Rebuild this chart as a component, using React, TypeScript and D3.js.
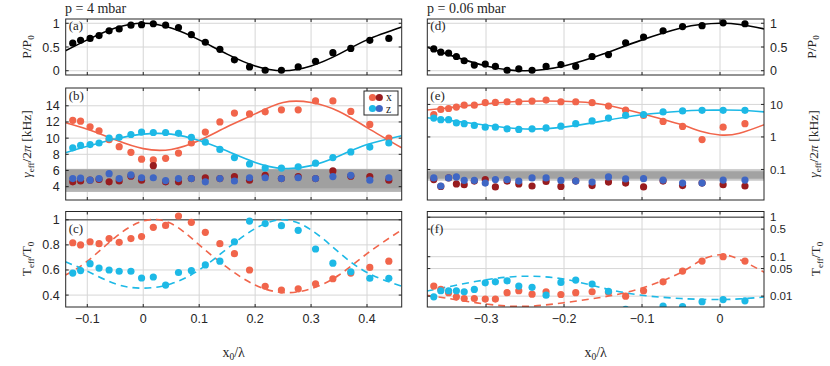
import React from 'react'
import * as d3 from 'd3'

// x positions of the measured points
const leftX = [-0.126, -0.112, -0.095, -0.079, -0.061, -0.043, -0.022, -0.003, 0.018, 0.040, 0.063, 0.086,
  0.111, 0.137, 0.163, 0.190, 0.218, 0.247, 0.277, 0.308, 0.339, 0.371, 0.405, 0.439]
const rightX = [-0.367, -0.358, -0.348, -0.338, -0.328, -0.315, -0.301, -0.288, -0.273, -0.258, -0.241, -0.223,
  -0.204, -0.185, -0.164, -0.143, -0.121, -0.098, -0.073, -0.048, -0.023, 0.004, 0.032]

// p = 4 mbar
const aPower = [0.58, 0.64, 0.68, 0.74, 0.84, 0.88, 0.96, 0.97, 0.99, 0.96, 0.91, 0.76, 0.60, 0.45, 0.23, 0.08,
  0.01, 0.01, 0.08, 0.20, 0.38, 0.47, 0.64, 0.68]
const bGammaX = [12.2, 12.1, 11.4, 10.9, 9.8, 8.95, 8.25, 7.4, 7.3, 7.5, 8.15, 9.4, 10.75, 12.0, 13.1, 13.0,
  13.25, 13.5, 13.5, 14.6, 14.6, 13.3, 11.7, 10.0]
const bGammaZ = [8.8, 9.1, 9.2, 9.4, 10.0, 10.1, 10.45, 10.75, 10.7, 10.7, 10.6, 10.1, 9.5, 8.6, 7.6, 6.8, 6.3,
  6.3, 6.45, 6.9, 7.6, 8.3, 8.9, 9.4]
const bGammaX0 = [4.6, 4.7, 4.8, 4.9, 4.6, 4.7, 5.3, 4.8, 6.6, 4.6, 4.6, 5.0, 5.1, 5.0, 5.25, 4.8, 5.4, 5.0,
  5.25, 5.0, 5.95, 5.3, 5.25, 4.8]
const bGammaZ0 = [5.0, 5.05, 4.8, 5.0, 5.6, 5.0, 5.45, 5.1, 5.1, 4.75, 5.0, 5.0, 4.6, 5.0, 4.7, 5.1, 5.1, 5.0,
  5.1, 5.0, 5.25, 5.4, 4.8, 5.1]
const cTempX = [0.817, 0.80, 0.825, 0.81, 0.85, 0.82, 0.85, 0.866, 0.94, 0.955, 1.03, 0.98, 0.90, 0.81, 0.73,
  0.60, 0.47, 0.44, 0.45, 0.49, 0.53, 0.575, 0.62, 0.67]
const cTempZ = [0.575, 0.595, 0.65, 0.615, 0.60, 0.59, 0.59, 0.536, 0.544, 0.48, 0.58, 0.595, 0.64, 0.67, 0.825,
  0.99, 0.97, 0.953, 0.916, 0.767, 0.654, 0.586, 0.534, 0.534]

// p = 0.06 mbar
const dPower = [0.46, 0.39, 0.37, 0.30, 0.21, 0.12, 0.14, 0.09, 0.01, 0.04, 0.01, 0.09, 0.13, 0.09, 0.30, 0.34,
  0.59, 0.71, 0.84, 0.93, 0.95, 1.01, 0.99]
const eGammaX = [4.9, 7.0, 7.5, 8.3, 9.5, 9.5, 11.3, 11.5, 12.1, 12.1, 12.7, 13.6, 12.1, 12.1, 11.3, 8.9, 6.65,
  4.6, 3.0, 2.1, 0.83, 2.0, 2.55]
const eGammaZ = [3.8, 3.4, 3.4, 2.7, 2.55, 2.26, 2.0, 2.0, 1.78, 1.7, 1.78, 1.9, 2.15, 2.55, 3.1, 3.8, 4.6, 4.9,
  5.9, 6.3, 6.6, 6.6, 6.6]
const eGammaX0 = [0.049, 0.030, 0.055, 0.036, 0.034, 0.044, 0.049, 0.029, 0.044, 0.036, 0.031, 0.043, 0.030,
  0.044, 0.032, 0.041, 0.038, 0.029, 0.044, 0.032, 0.038, 0.034, 0.031]
const eGammaZ0 = [0.055, 0.031, 0.055, 0.059, 0.046, 0.046, 0.038, 0.049, 0.049, 0.044, 0.055, 0.055, 0.046,
  0.044, 0.041, 0.059, 0.051, 0.052, 0.047, 0.038, 0.038, 0.047, 0.047]
const fTempX = [0.0180, 0.0148, 0.0122, 0.0096, 0.0087, 0.0087, 0.0084, 0.0084, 0.0122, 0.0137, 0.0112, 0.0129,
  0.011, 0.0122, 0.0129, 0.0125, 0.010, 0.0137, 0.0231, 0.0432, 0.0776, 0.1, 0.0776]
const fTempZ = [0.0096, 0.0137, 0.0137, 0.0137, 0.0129, 0.0148, 0.0218, 0.0231, 0.0245, 0.018, 0.0167, 0.0106,
  0.0222, 0.0255, 0.0202, 0.0133, 0.0046, 0.003, 0.0056, 0.0054, 0.0072, 0.0082, 0.0076]

const leftFitX = [-0.139, -0.1, -0.05, 0, 0.05, 0.1, 0.15, 0.2, 0.25, 0.3, 0.35, 0.4, 0.462]
const aFit = [0.42, 0.65, 0.9, 1.0, 0.9, 0.65, 0.35, 0.1, 0.0, 0.1, 0.35, 0.65, 0.92]
const bFitX = [11.9, 11.1, 9.8, 8.7, 8.6, 9.7, 11.4, 13.0, 14.4, 14.4, 13.3, 11.3, 8.8]
const bFitZ = [8.2, 9.0, 9.9, 10.5, 10.5, 9.7, 8.4, 7.0, 6.25, 6.6, 7.8, 9.2, 10.3]
const cFitX = [0.56, 0.67, 0.86, 0.99, 0.97, 0.80, 0.62, 0.48, 0.42, 0.45, 0.56, 0.73, 0.92]
const cFitZ = [0.665, 0.59, 0.49, 0.455, 0.49, 0.6, 0.77, 0.93, 1.0, 0.92, 0.74, 0.58, 0.47]

const rightFitX = [-0.376, -0.35, -0.3, -0.25, -0.2, -0.15, -0.1, -0.05, -0.025, 0, 0.025, 0.057]
const dFit = [0.5, 0.35, 0.1, 0.0, 0.1, 0.35, 0.65, 0.9, 0.975, 1.0, 0.975, 0.88]
const eFitX = [6.7, 7.8, 10.5, 12.5, 12.5, 10.0, 5.2, 2.4, 1.5, 1.15, 1.3, 2.4]
const eFitZ = [3.9, 3.3, 2.3, 1.75, 2.0, 3.1, 4.8, 6.2, 6.6, 6.7, 6.6, 5.9]
const fFitX = [0.0105, 0.0088, 0.0063, 0.0055, 0.0068, 0.0095, 0.016, 0.040, 0.08, 0.112, 0.085, 0.04]
const fFitZ = [0.0135, 0.017, 0.026, 0.032, 0.027, 0.016, 0.0105, 0.0087, 0.0083, 0.0082, 0.0085, 0.0095]

// ticks
const leftXTicks = [-0.1, 0, 0.1, 0.2, 0.3, 0.4]
const rightXTicks = [-0.3, -0.2, -0.1, 0]
const powerTicks = [0, 0.5, 1]
const gammaTicks = [4, 6, 8, 10, 12, 14]
const tempTicks = [0.4, 0.6, 0.8, 1]
const gammaLogTicks = [0.1, 1, 10]
const tempLogTicks = [0.01, 0.05, 0.1, 0.5, 1]

const RED = '#f1654b'
const CYAN = '#1db9e6'
const DARKRED = '#981c1f'
const BLUE = '#3f66c4'

const SANS = 'Liberation Sans, Arial, sans-serif'
const SERIF = 'Liberation Serif, Times New Roman, serif'

const colL = { l: 65.7, r: 401.7 }
const colR = { l: 427.3, r: 764 }
const rowA = { t: 19, b: 75 }
const rowB = { t: 88, b: 200 }
const rowC = { t: 211.5, b: 307 }

const fmt = (v: number) => (v < 0 ? '\u2212' + String(-v) : String(v))

function Panel(p: any) {
  const { col, row, xDomain, xTicks, showX, yDomain, log, yTicks, side, xs, dots, fitX, fits, bands, refLine, tag, tagY, id } = p
  const x = d3.scaleLinear(xDomain, [col.l, col.r])
  const y: any = log ? d3.scaleLog(yDomain, [row.b, row.t]) : d3.scaleLinear(yDomain, [row.b, row.t])
  const line = d3.line<number>().x((_, i) => x(fitX[i])).y(d => y(d)).curve(d3.curveNatural)
  const w = col.r - col.l, h = row.b - row.t
  return (
    <g>
      <defs>
        <clipPath id={id}><rect x={col.l} y={row.t} width={w} height={h} /></clipPath>
      </defs>
      <rect x={col.l} y={row.t} width={w} height={h} fill="#fff" />
      {xTicks.map((t: number) => (
        <line key={'gx' + t} x1={x(t)} x2={x(t)} y1={row.t} y2={row.b} stroke="#d6d6d6" />
      ))}
      {yTicks.map((t: number) => (
        <line key={'gy' + t} x1={col.l} x2={col.r} y1={y(t)} y2={y(t)} stroke="#d6d6d6" />
      ))}
      <g clipPath={`url(#${id})`}>
        {(bands || []).map((b: any, i: number) => (
          <rect key={'b' + i} x={col.l} width={w} y={y(b.hi)} height={y(b.lo) - y(b.hi)} fill={b.fill} />
        ))}
        {refLine !== undefined && (
          <line x1={col.l} x2={col.r} y1={y(refLine)} y2={y(refLine)} stroke="#6e6e6e" strokeWidth={1.5} />
        )}
        {fits.map((f: any, i: number) => (
          <path key={'f' + i} d={line(f.y) || ''} fill="none" stroke={f.color} strokeWidth={1.6}
            strokeDasharray={f.dashed ? '7,5' : undefined} />
        ))}
        {dots.map((s: any, i: number) => (
          <g key={'s' + i} fill={s.color}>
            {s.y.map((v: number, j: number) => (
              <circle key={j} cx={x(xs[j])} cy={y(v)} r={3.6} />
            ))}
          </g>
        ))}
      </g>
      {/* inward ticks */}
      {xTicks.map((t: number) => (
        <g key={'tx' + t} stroke="#262626">
          <line x1={x(t)} x2={x(t)} y1={row.b} y2={row.b - 3} />
          <line x1={x(t)} x2={x(t)} y1={row.t} y2={row.t + 3} />
        </g>
      ))}
      {yTicks.map((t: number) => (
        <g key={'ty' + t} stroke="#262626">
          <line x1={col.l} x2={col.l + 3} y1={y(t)} y2={y(t)} />
          <line x1={col.r} x2={col.r - 3} y1={y(t)} y2={y(t)} />
        </g>
      ))}
      <rect x={col.l} y={row.t} width={w} height={h} fill="none" stroke="#262626" strokeWidth={1} />
      {yTicks.map((t: number) => (
        <text key={'ly' + t} x={side === 'left' ? col.l - 6 : col.r + 6} y={y(t)} dy="0.36em"
          textAnchor={side === 'left' ? 'end' : 'start'} fontFamily={SANS} fontSize={log ? 11.5 : 12.5} fill="#262626">
          {fmt(t)}
        </text>
      ))}
      {showX && xTicks.map((t: number) => (
        <text key={'lx' + t} x={x(t)} y={row.b + 16} textAnchor="middle" fontFamily={SANS} fontSize={12.5}
          fill="#262626">{fmt(t)}</text>
      ))}
      <text x={col.l + 3} y={tagY} fontFamily={SERIF} fontSize={13} fill="#262626">{tag}</text>
    </g>
  )
}

function YLabel({ x, y, kind }: { x: number; y: number; kind: string }) {
  const sub = (s: string) => <tspan fontSize={9} dy={3}>{s}</tspan>
  const up = (s: string) => <tspan dy={-3}>{s}</tspan>
  let content: any
  if (kind === 'P') content = <>P/P{sub('0')}</>
  else if (kind === 'T') content = <>T{sub('eff')}{up('/T')}{sub('0')}</>
  else content = <><tspan fontStyle="italic">γ</tspan>{sub('eff')}{up('/2')}<tspan fontStyle="italic">π</tspan> [kHz]</>
  return (
    <text transform={`translate(${x},${y}) rotate(-90)`} textAnchor="middle" fontFamily={SERIF} fontSize={13.5}
      fill="#262626">{content}</text>
  )
}

export default function App() {
  const leftBase = { col: colL, xDomain: [-0.1386, 0.462], xTicks: leftXTicks, xs: leftX, fitX: leftFitX, side: 'left' }
  const rightBase = { col: colR, xDomain: [-0.3753, 0.0564], xTicks: rightXTicks, xs: rightX, fitX: rightFitX, side: 'right' }
  return (
    <svg width={830} height={366} style={{ position: 'absolute', left: 0, top: 0, background: '#fff' }}>
      <text x={65} y={13} fontFamily={SERIF} fontSize={14} fill="#262626">p = 4 mbar</text>
      <text x={427} y={13} fontFamily={SERIF} fontSize={14} fill="#262626">p = 0.06 mbar</text>

      <Panel {...leftBase} id="ca" row={rowA} yDomain={[-0.09, 1.09]} yTicks={powerTicks} tag="(a)" tagY={30}
        dots={[{ y: aPower, color: '#000' }]} fits={[{ y: aFit, color: '#000' }]} />
      <Panel {...leftBase} id="cb" row={rowB} yDomain={[2.35, 16.2]} yTicks={gammaTicks} tag="(b)" tagY={100}
        bands={[{ lo: 3.35, hi: 6.2, fill: '#b4b4b4' }, { lo: 3.8, hi: 6.1, fill: '#a0a0a0' }]}
        fits={[{ y: bFitX, color: RED }, { y: bFitZ, color: CYAN }]}
        dots={[{ y: bGammaX, color: RED }, { y: bGammaZ, color: CYAN }, { y: bGammaX0, color: DARKRED }, { y: bGammaZ0, color: BLUE }]} />
      <Panel {...leftBase} id="cc" row={rowC} yDomain={[0.305, 1.066]} yTicks={tempTicks} tag="(c)" tagY={233}
        showX refLine={1}
        fits={[{ y: cFitX, color: RED, dashed: true }, { y: cFitZ, color: CYAN, dashed: true }]}
        dots={[{ y: cTempX, color: RED }, { y: cTempZ, color: CYAN }]} />

      <Panel {...rightBase} id="cd" row={rowA} yDomain={[-0.09, 1.09]} yTicks={powerTicks} tag="(d)" tagY={30}
        dots={[{ y: dPower, color: '#000' }]} fits={[{ y: dFit, color: '#000' }]} />
      <Panel {...rightBase} id="ce" row={rowB} log yDomain={[0.0115, 32]} yTicks={gammaLogTicks} tag="(e)" tagY={100}
        bands={[{ lo: 0.045, hi: 0.1, fill: '#c8c8c8' }, { lo: 0.052, hi: 0.088, fill: '#a2a2a2' }]}
        fits={[{ y: eFitX, color: RED }, { y: eFitZ, color: CYAN }]}
        dots={[{ y: eGammaX, color: RED }, { y: eGammaZ, color: CYAN }, { y: eGammaX0, color: DARKRED }, { y: eGammaZ0, color: BLUE }]} />
      <Panel {...rightBase} id="cf" row={rowC} log yDomain={[0.0053, 1.4]} yTicks={tempLogTicks} tag="(f)" tagY={233}
        showX refLine={1}
        fits={[{ y: fFitX, color: RED, dashed: true }, { y: fFitZ, color: CYAN, dashed: true }]}
        dots={[{ y: fTempX, color: RED }, { y: fTempZ, color: CYAN }]} />

      {/* legend */}
      <g>
        <rect x={364} y={91} width={34} height={24} fill="#fff" stroke="#262626" />
        <circle cx={372.5} cy={97.5} r={3.6} fill={RED} />
        <circle cx={379.3} cy={97.5} r={3.6} fill={DARKRED} />
        <text x={386} y={101} fontFamily={SERIF} fontSize={11.5} fill="#262626">x</text>
        <circle cx={372.5} cy={108.5} r={3.6} fill={CYAN} />
        <circle cx={379.3} cy={108.5} r={3.6} fill={BLUE} />
        <text x={386} y={112.5} fontFamily={SERIF} fontSize={11.5} fill="#262626">z</text>
      </g>

      <YLabel x={31} y={47} kind="P" />
      <YLabel x={31} y={144} kind="G" />
      <YLabel x={31} y={259} kind="T" />
      <YLabel x={816} y={47} kind="P" />
      <YLabel x={818} y={144} kind="G" />
      <YLabel x={820} y={259} kind="T" />

      <text x={233.7} y={357} textAnchor="middle" fontFamily={SERIF} fontSize={14} fill="#262626">
        x<tspan fontSize={9.5} dy={3}>0</tspan><tspan dy={-3}>/λ</tspan>
      </text>
      <text x={595.6} y={357} textAnchor="middle" fontFamily={SERIF} fontSize={14} fill="#262626">
        x<tspan fontSize={9.5} dy={3}>0</tspan><tspan dy={-3}>/λ</tspan>
      </text>
    </svg>
  )
}
